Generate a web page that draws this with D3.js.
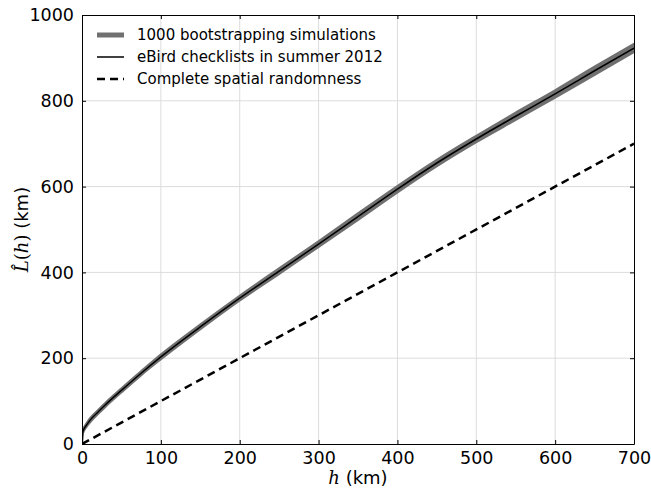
<!doctype html>
<html lang="en">
  <head>
    <meta charset="utf-8">
    <title>L(h) chart</title>
    <style>
      body { margin: 0; background: #fff; }
      text { font-family: "DejaVu Sans", sans-serif; }
    </style>
  </head>
  <body>
    <script src="https://d3js.org/d3.v7.min.js"></script>
    <script>
      // distances h (km)
      var hValues = [0, 1, 5, 10, 20, 30, 50, 75, 100, 150, 200, 250, 300, 350, 400, 450, 500, 550, 600, 650, 700];
      // observed L(h) for eBird checklists
      var ebirdL = [0, 28, 42, 55, 74, 92, 125, 165, 203, 273, 340, 403, 466, 530, 594, 655, 711, 764, 816, 870, 923];
      // spread of the bootstrap simulations (low / high)
      var bootLow = [0, 25, 39, 51, 70, 88, 121, 161, 198, 268, 335, 397, 460, 523, 587, 648, 704, 756, 808, 861, 914];
      var bootHigh = [0, 31, 45, 59, 78, 96, 129, 169, 208, 278, 345, 409, 472, 537, 601, 662, 718, 772, 824, 879, 932];
      // complete spatial randomness: L(h) = h
      var csrH = [0, 700];
      var csrL = [0, 700];

      var xTicks = [0, 100, 200, 300, 400, 500, 600, 700];
      var yTicks = [0, 200, 400, 600, 800, 1000];

      var legendLabels = ['1000 bootstrapping simulations', 'eBird checklists in summer 2012', 'Complete spatial randomness'];

      var W = 651, H = 488;
      var margin = { top: 15, right: 17, bottom: 44, left: 82 };
      var width = W - margin.left - margin.right;
      var height = H - margin.top - margin.bottom;

      var x = d3.scaleLinear().domain([0, 700]).range([0, width]);
      var y = d3.scaleLinear().domain([0, 1000]).range([height, 0]);

      var svg = d3.select('body').append('svg')
          .attr('width', W)
          .attr('height', H);

      var g = svg.append('g')
          .attr('transform', 'translate(' + margin.left + ',' + margin.top + ')');

      // grid
      g.append('g').selectAll('line')
        .data(xTicks.slice(1, -1))
        .enter().append('line')
          .attr('x1', function(d) { return x(d); })
          .attr('x2', function(d) { return x(d); })
          .attr('y1', 0).attr('y2', height)
          .attr('stroke', '#dcdcdc').attr('stroke-width', 1);
      g.append('g').selectAll('line')
        .data(yTicks.slice(1, -1))
        .enter().append('line')
          .attr('y1', function(d) { return y(d); })
          .attr('y2', function(d) { return y(d); })
          .attr('x1', 0).attr('x2', width)
          .attr('stroke', '#dcdcdc').attr('stroke-width', 1);

      svg.append('defs').append('clipPath').attr('id', 'clip')
        .append('rect').attr('width', width).attr('height', height);

      var plot = g.append('g').attr('clip-path', 'url(#clip)');

      var idx = d3.range(hValues.length);

      // bootstrap band
      var band = d3.area()
          .curve(d3.curveMonotoneX)
          .x(function(i) { return x(hValues[i]); })
          .y0(function(i) { return y(bootLow[i]); })
          .y1(function(i) { return y(bootHigh[i]); });
      plot.append('path')
          .datum(idx)
          .attr('d', band)
          .attr('fill', '#707070')
          .attr('stroke', '#707070')
          .attr('stroke-width', 2.5)
          .attr('stroke-linejoin', 'round');

      // observed line
      var line = d3.line()
          .curve(d3.curveMonotoneX)
          .x(function(i) { return x(hValues[i]); })
          .y(function(i) { return y(ebirdL[i]); });
      plot.append('path')
          .datum(idx)
          .attr('d', line)
          .attr('fill', 'none')
          .attr('stroke', '#000')
          .attr('stroke-width', 1.5);

      // CSR dashed line
      plot.append('path')
          .datum(d3.range(csrH.length))
          .attr('d', d3.line()
            .x(function(i) { return x(csrH[i]); })
            .y(function(i) { return y(csrL[i]); }))
          .attr('fill', 'none')
          .attr('stroke', '#000')
          .attr('stroke-width', 2.5)
          .attr('stroke-dasharray', '8,5');

      // axes, ticks pointing inwards on all four sides
      var fontSize = 17.5;
      var fmt = d3.format('d');
      var axB = g.append('g').attr('transform', 'translate(0,' + height + ')')
          .call(d3.axisBottom(x).tickValues(xTicks).tickFormat(fmt).tickSizeInner(-4).tickSizeOuter(0).tickPadding(8));
      var axT = g.append('g')
          .call(d3.axisTop(x).tickValues(xTicks).tickSizeInner(-4).tickSizeOuter(0).tickFormat(''));
      var axL = g.append('g')
          .call(d3.axisLeft(y).tickValues(yTicks).tickFormat(fmt).tickSizeInner(-4).tickSizeOuter(0).tickPadding(8));
      var axR = g.append('g').attr('transform', 'translate(' + width + ',0)')
          .call(d3.axisRight(y).tickValues(yTicks).tickSizeInner(-4).tickSizeOuter(0).tickFormat(''));

      [axB, axT, axL, axR].forEach(function(a) {
        a.select('.domain').attr('stroke', '#000').attr('stroke-width', 1);
        a.selectAll('.tick line').attr('stroke', '#000');
        a.selectAll('text')
          .attr('font-family', '"DejaVu Sans", sans-serif')
          .attr('font-size', fontSize)
          .attr('fill', '#000');
      });

      // axis labels
      var xl = svg.append('text')
          .attr('x', margin.left + width / 2)
          .attr('y', 484)
          .attr('text-anchor', 'middle')
          .attr('font-size', 18);
      xl.append('tspan').attr('font-family', '"DejaVu Serif", serif').attr('font-style', 'italic').text('h');
      xl.append('tspan').text(' (km)');

      var yl = svg.append('text')
          .attr('transform', 'translate(28,' + (margin.top + height / 2) + ') rotate(-90)')
          .attr('text-anchor', 'middle')
          .attr('font-size', 18);
      yl.append('tspan').attr('font-family', '"DejaVu Serif", serif').attr('font-style', 'italic').text('L\u0302');
      yl.append('tspan').attr('font-family', '"DejaVu Serif", serif').text('(');
      yl.append('tspan').attr('font-family', '"DejaVu Serif", serif').attr('font-style', 'italic').text('h');
      yl.append('tspan').attr('font-family', '"DejaVu Serif", serif').text(')');
      yl.append('tspan').text(' (km)');

      // legend
      var legend = svg.append('g').attr('transform', 'translate(97,35)');
      var styles = [
        { w: 5, dash: null, c: '#707070' },
        { w: 1.5, dash: null, c: '#000' },
        { w: 2.5, dash: '8,5', c: '#000' }
      ];
      legendLabels.forEach(function(lbl, i) {
        var row = legend.append('g').attr('transform', 'translate(0,' + (i * 22) + ')');
        row.append('line')
            .attr('x1', 0).attr('x2', 27)
            .attr('stroke', styles[i].c)
            .attr('stroke-width', styles[i].w)
            .attr('stroke-dasharray', styles[i].dash);
        row.append('text')
            .attr('x', 40)
            .attr('dy', '0.35em')
            .attr('font-size', 15)
            .text(lbl);
      });
    </script>
  </body>
</html>
